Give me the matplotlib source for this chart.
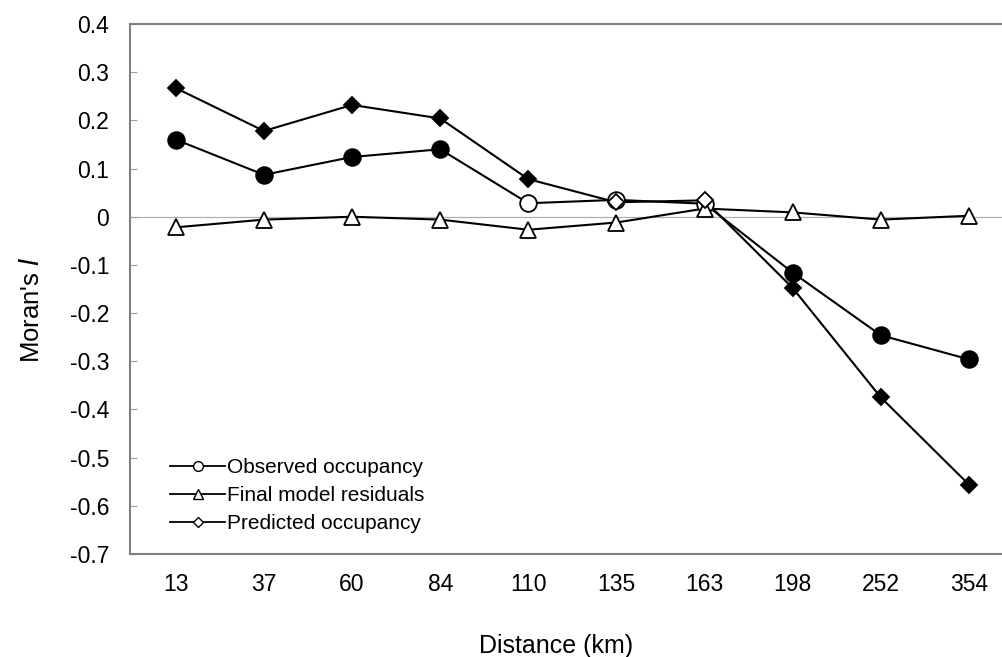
import numpy as np
from matplotlib import pyplot as plt
from matplotlib.lines import Line2D

plt.rcParams['font.family'] = ['Liberation Sans', 'DejaVu Sans']

distances = ['13', '37', '60', '84', '110', '135', '163', '198', '252', '354']

observed = [0.160, 0.087, 0.124, 0.140, 0.028, 0.035, 0.027, -0.116, -0.246, -0.296]
observed_sig = [1, 1, 1, 1, 0, 0, 0, 1, 1, 1]

residuals = [-0.022, -0.006, 0.000, -0.006, -0.027, -0.012, 0.017, 0.009, -0.006, 0.002]

predicted = [0.267, 0.178, 0.232, 0.204, 0.078, 0.030, 0.034, -0.148, -0.375, -0.556]
predicted_sig = [1, 1, 1, 1, 1, 0, 0, 1, 1, 1]

x = np.arange(len(distances))

fig = plt.figure(figsize=(10.03, 6.57), dpi=100)
ax = fig.add_axes([130/1003, 1-554/657, 883/1003, 530/657])

ax.axhline(0, color='#b0b0b0', lw=0.9, zorder=1)

# lines
ax.plot(x, observed, 'k-', lw=1.5, zorder=2)
ax.plot(x, residuals, 'k-', lw=1.5, zorder=2)
ax.plot(x, predicted, 'k-', lw=1.5, zorder=2)

# markers: filled = significant, open = not
for i in range(len(x)):
    fc = 'k' if observed_sig[i] else 'w'
    ax.plot(x[i], observed[i], 'o', ms=12, mfc=fc, mec='k', mew=1.3, zorder=3)
for i in range(len(x)):
    ax.plot(x[i], residuals[i], '^', ms=11, mfc='w', mec='k', mew=1.3, zorder=4)
for i in range(len(x)):
    fc = 'k' if predicted_sig[i] else 'w'
    ax.plot(x[i], predicted[i], 'D', ms=8.5, mfc=fc, mec='k', mew=1.3, zorder=5)

ax.set_xlim(-0.52, 9.5)
ax.set_ylim(-0.7, 0.4)
ax.set_yticks(np.arange(-0.7, 0.41, 0.1))
ax.set_yticklabels(['-0.7', '-0.6', '-0.5', '-0.4', '-0.3', '-0.2', '-0.1', '0',
                    '0.1', '0.2', '0.3', '0.4'])
ax.set_xticks(x)
ax.set_xticklabels(distances)
ax.tick_params(axis='y', direction='in', length=5, color='#a0a0a0', labelsize=16.5, pad=15)
ax.tick_params(axis='x', length=0, labelsize=16.5, pad=14)

for s in ['left', 'top', 'bottom']:
    ax.spines[s].set_color('#808080')
    ax.spines[s].set_linewidth(1.5)
ax.spines['right'].set_visible(False)

ax.set_ylabel("Moran's $\\it{I}$", fontsize=18.5)
ax.yaxis.set_label_coords(-(130-44)/883, 0.462)
ax.set_xlabel('Distance (km)', fontsize=18)
ax.xaxis.set_label_coords((556-130)/883, -(634-554)/530)

handles = [
    Line2D([0], [0], color='k', lw=1.3, marker='o', ms=7, mfc='w', mec='k'),
    Line2D([0], [0], color='k', lw=1.3, marker='^', ms=7, mfc='w', mec='k'),
    Line2D([0], [0], color='k', lw=1.3, marker='D', ms=5, mfc='w', mec='k'),
]
ax.legend(handles, ['Observed occupancy', 'Final model residuals', 'Predicted occupancy'],
          loc='upper left', bbox_to_anchor=(0.034, 0.2), frameon=False,
          fontsize=15, handlelength=2.6, handletextpad=0.12, labelspacing=0.42,
          borderpad=0)

plt.savefig('out.png', dpi=100)
